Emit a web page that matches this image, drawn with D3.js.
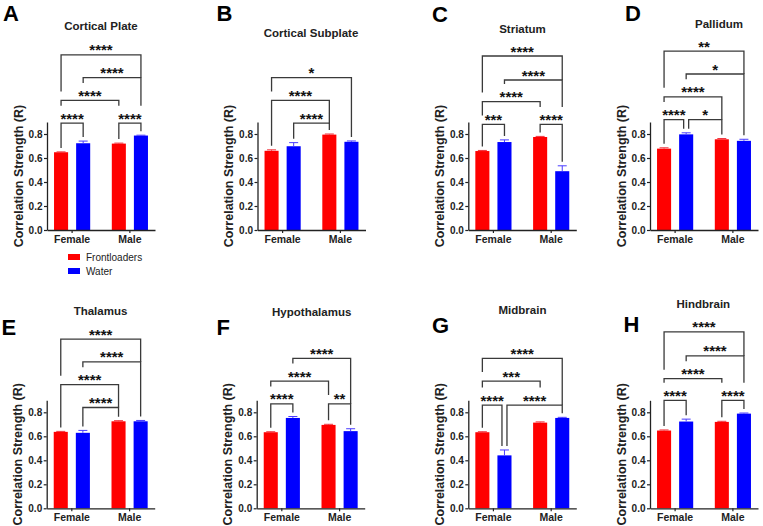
<!DOCTYPE html>
<html><head><meta charset="utf-8">
<script src="https://cdn.jsdelivr.net/npm/d3@7"></script>
<style>html,body{margin:0;padding:0;background:#fff;} svg{display:block;font-family:"Liberation Sans",Arial,Helvetica,sans-serif;}</style>
</head><body><svg id="chart" width="763" height="526"></svg>
<script>
// ---------- DATA ----------
const regions = ["Cortical Plate","Cortical Subplate","Striatum","Pallidum","Thalamus","Hypothalamus","Midbrain","Hindbrain"];
const panelLetters = ["A","B","C","D","E","F","G","H"];
const sexes = ["Female","Male"];
const groups = ["Frontloaders","Water"];
// [Female, Male] per region
const frontloaders    = [[0.648,0.720],[0.660,0.795],[0.658,0.775],[0.678,0.756],[0.637,0.725],[0.634,0.695],[0.634,0.714],[0.648,0.720]];
const frontloadersErr = [[0.003,0.004],[0.008,0.005],[0.005,0.005],[0.007,0.006],[0.004,0.005],[0.004,0.005],[0.004,0.006],[0.005,0.005]];
const water           = [[0.723,0.787],[0.698,0.735],[0.733,0.490],[0.797,0.743],[0.629,0.725],[0.753,0.643],[0.441,0.753],[0.723,0.789]];
const waterErr        = [[0.018,0.003],[0.030,0.007],[0.018,0.045],[0.013,0.013],[0.020,0.007],[0.012,0.020],[0.045,0.005],[0.020,0.005]];
const yTicks = [0,0.2,0.4,0.6,0.8];
// comparison brackets: [barA, barB, level, label]; bars: 0 FL-Female, 1 Water-Female, 2 FL-Male, 3 Water-Male
const comparisons = [
  [[0,1,0,"****"],[2,3,0,"****"],[0,2,1,"****"],[1,3,2,"****"],[0,3,3,"****"]],
  [[1,2,0,"****"],[0,2,1,"****"],[0,3,2,"*"]],
  [[0,1,0,"***"],[2,3,0,"****"],[0,2,1,"****"],[1,3,2,"****"],[0,3,3,"****"]],
  [[0,1,0,"****"],[1,2,0,"*"],[0,2,1,"****"],[1,3,2,"*"],[0,3,3,"**"]],
  [[1,2,0,"****"],[0,2,1,"****"],[1,3,2,"****"],[0,3,3,"****"]],
  [[0,1,0,"****"],[2,3,0,"**"],[0,2,1,"****"],[1,3,2,"****"]],
  [[0,1,0,"****"],[1,3,0,"****"],[0,2,1,"***"],[0,3,2,"****"]],
  [[0,1,0,"****"],[2,3,0,"****"],[0,2,1,"****"],[1,3,2,"****"],[0,3,3,"****"]]
];
// bracket heights (data units) per level
const bracketHeights = [
  [0.89,1.08,1.27,1.46],
  [0.89,1.08,1.27],
  [0.88,1.07,1.25,1.45],
  [0.92,1.11,1.30,1.49],
  [0.84,1.03,1.22,1.41],
  [0.87,1.06,1.25],
  [0.86,1.06,1.25],
  [0.90,1.08,1.27,1.47]
];

// ---------- LAYOUT ----------
const layout = [
  {axisX:47,    base:230,   title:[101,30],   letter:[3,21]},
  {axisX:257.5, base:230,   title:[311,37],   letter:[216.5,21]},
  {axisX:468.3, base:230,   title:[522.5,32.5], letter:[432,21.5]},
  {axisX:650,   base:230,   title:[719,28],   letter:[625,20.5]},
  {axisX:46.7,  base:508.3, title:[100.5,315], letter:[1.5,335]},
  {axisX:256.7, base:508.3, title:[311.7,316], letter:[216.5,335]},
  {axisX:468.3, base:508.3, title:[522.5,313.5], letter:[432,332.5]},
  {axisX:650,   base:508.3, title:[703.3,307.5], letter:[623.5,332]}
];
const colors = {Frontloaders:"#ff0000", Water:"#0000ff"};
const errColors = {Frontloaders:"#f0303a", Water:"#4a3cff"};
const PLOT_W = 108, PLOT_H = 108;

const svg = d3.select("#chart");

function drawPanel(p){
  const L = layout[p];
  const g = svg.append("g").attr("transform", `translate(${L.axisX},0)`);
  const y = d3.scaleLinear().domain([0,0.9]).range([L.base, L.base-PLOT_H]);
  const x0 = d3.scaleBand().domain(sexes).range([0,PLOT_W]).paddingInner(0.374).paddingOuter(0.1217);
  const x1 = d3.scaleBand().domain(groups).range([0,x0.bandwidth()]).paddingInner(0.3636).paddingOuter(0);

  const bars = [];
  sexes.forEach((s,si)=>groups.forEach((gr,gi)=>{
    const vals = gi===0?frontloaders:water, errs = gi===0?frontloadersErr:waterErr;
    bars.push({sex:s, group:gr, v:vals[p][si], e:errs[p][si], x:x0(s)+x1(gr)});
  }));
  const bw = x1.bandwidth();
  const cx = i => bars[i].x + bw/2;

  // bars
  g.selectAll("rect.bar").data(bars).join("rect")
    .attr("x", d=>d.x).attr("width", bw)
    .attr("y", d=>y(d.v)).attr("height", d=>y(0)-y(d.v))
    .attr("fill", d=>colors[d.group]);
  // error bars
  const eg = g.selectAll("g.err").data(bars).join("g");
  eg.append("line").attr("x1",d=>d.x+bw/2).attr("x2",d=>d.x+bw/2)
    .attr("y1",d=>y(d.v)).attr("y2",d=>y(d.v+d.e))
    .attr("stroke",d=>errColors[d.group]).attr("stroke-width",1);
  eg.append("line").attr("x1",d=>d.x+bw/2-4.5).attr("x2",d=>d.x+bw/2+4.5)
    .attr("y1",d=>y(d.v+d.e)).attr("y2",d=>y(d.v+d.e))
    .attr("stroke",d=>errColors[d.group]).attr("stroke-width",1);

  // axes
  const ya = g.append("g").call(d3.axisLeft(y).tickValues(yTicks).tickFormat(d3.format(".1f")).tickSize(3).tickSizeOuter(0));
  ya.select(".domain").attr("stroke","#222").attr("stroke-width",1.3);
  ya.selectAll(".tick line").attr("stroke","#222").attr("stroke-width",1.2);
  ya.selectAll(".tick text").attr("font-size","10px").attr("font-weight","bold").attr("fill","#222")
    .attr("font-family","Liberation Sans, Arial, sans-serif").attr("x",-4.5);
  const xa = g.append("g").attr("transform",`translate(0,${L.base})`)
    .call(d3.axisBottom(x0).tickSize(3).tickSizeOuter(0));
  xa.select(".domain").attr("stroke","#222").attr("stroke-width",1.3);
  xa.selectAll(".tick line").attr("stroke","#222").attr("stroke-width",1.2);
  xa.selectAll(".tick text").attr("font-size","10.5px").attr("font-weight","bold").attr("fill","#222")
    .attr("font-family","Liberation Sans, Arial, sans-serif").attr("y",5.5);

  // y-axis title
  g.append("text").attr("transform",`translate(-28.5,${L.base-PLOT_H/2}) rotate(-90)`)
    .attr("text-anchor","middle").attr("dominant-baseline","central")
    .attr("font-size","12.5px").attr("font-weight","bold").attr("fill","#222")
    .text("Correlation Strength (R)");

  // brackets
  const comps = comparisons[p].map(([a,b,lev,lab])=>({a,b,lev,lab,xl:cx(a),xr:cx(b),ly:y(bracketHeights[p][lev])}));
  comps.forEach(c=>comps.forEach(d=>{ if(c!==d && c.lev===d.lev && c.b===d.a){ c.xr-=2.5; d.xl+=2.5; } }));
  comps.forEach(c=>{ c.mid=(c.xl+c.xr)/2; c.w=c.lab.length*5.8; });
  function legEnd(c, x, idx, isRight){
    let end = y(bars[idx].v+bars[idx].e) - 4;
    comps.forEach(d=>{
      if(d===c || d.ly<=c.ly) return;
      if(Math.abs(x-d.mid) <= d.w/2+2) end = Math.min(end, d.ly-17.5);
      else if(isRight && d.b===idx) end = Math.min(end, d.ly);
      else if(x>=d.xl-3 && x<=d.xr+3) end = Math.min(end, d.ly-9);
    });
    return end;
  }
  const bg = g.append("g");
  comps.forEach(c=>{
    const yl = legEnd(c,c.xl,c.a,false), yr = legEnd(c,c.xr,c.b,true);
    bg.append("path").attr("d",`M${c.xl},${yl}V${c.ly}H${c.xr}V${yr}`)
      .attr("fill","none").attr("stroke","#3a3a3a").attr("stroke-width",1.3);
    bg.append("text").attr("x",c.mid).attr("y",c.ly+0.5).attr("text-anchor","middle")
      .attr("font-size","15px").attr("font-weight","bold").attr("fill","#111").text(c.lab);
  });

  // title and letter
  svg.append("text").attr("x",L.title[0]).attr("y",L.title[1]).attr("text-anchor","middle")
    .attr("font-size","11.5px").attr("font-weight","bold").attr("fill","#222").text(regions[p]);
  svg.append("text").attr("x",L.letter[0]).attr("y",L.letter[1])
    .attr("font-size","22px").attr("font-weight","bold").attr("fill","#000").text(panelLetters[p]);
}
regions.forEach((r,i)=>drawPanel(i));

// legend (under panel A)
const lg = svg.append("g");
groups.forEach((gr,i)=>{
  lg.append("rect").attr("x",68).attr("y",254+i*14).attr("width",12).attr("height",6).attr("fill",colors[gr]);
  lg.append("text").attr("x",86).attr("y",260.5+i*14).attr("font-size","10px").attr("fill","#222").text(gr);
});
</script></body></html>
